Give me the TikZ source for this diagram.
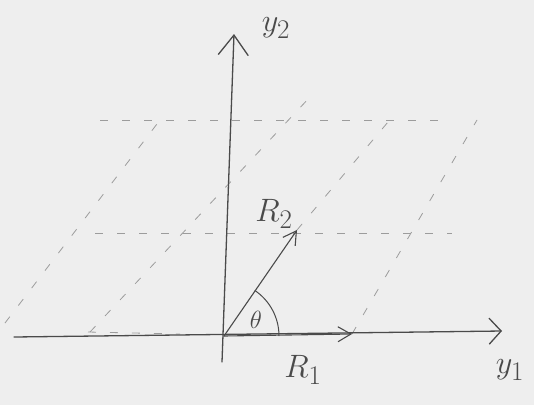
\documentclass[tikz,border=0pt]{standalone}
\usepackage{graphicx}
\usetikzlibrary{arrows.meta}
\definecolor{bg}{HTML}{EEEEEE}
\definecolor{ink}{HTML}{4A4A4A}
\definecolor{lat}{HTML}{9C9C9C}
\newcommand{\biglbl}[2][1.3]{\scalebox{#1}{\Huge$#2$}}
\begin{document}
\begin{tikzpicture}[x=1pt,y=-1pt,
  axisline/.style={draw=ink, line width=1.3pt, line cap=round},
  vec/.style={draw=ink, line width=1.1pt, line cap=round, -{Straight Barb[length=13pt,width=15pt]}},
  gridline/.style={draw=lat, line width=0.8pt, dash pattern=on 8pt off 14pt},
  lbl/.style={text=ink, inner sep=1pt}]
\fill[bg] (0,0) rectangle (534,405);
\useasboundingbox (0,0) rectangle (534,405);
% key points
\coordinate (O) at (224,336);
\coordinate (xL) at (14,337);
\coordinate (xR) at (502,331);
\coordinate (yB) at (222,362);
\coordinate (yT) at (234,34);
\coordinate (R1) at (352,334);
\coordinate (R2) at (297,230);
% lattice end points
\coordinate (h1a) at (100,120);
\coordinate (h1b) at (440,120);
\coordinate (h2a) at (95,233);
\coordinate (h2b) at (452,233);
\coordinate (h0a) at (88,332);
\coordinate (h0b) at (180,334);
\coordinate (s1a) at (5,323);
\coordinate (s1b) at (160,120);
\coordinate (s2a) at (90,332);
\coordinate (s2b) at (310,97);
\coordinate (s3b) at (388,122);
\coordinate (s4b) at (477,120);
% lattice
\draw[gridline] (h1a) -- (h1b);
\draw[gridline] (h2a) -- (h2b);
\draw[gridline] (h0a) -- (h0b);
\draw[gridline] (s1a) -- (s1b);
\draw[gridline] (s2a) -- (s2b);
\draw[gridline] (R2) -- (s3b);
\draw[gridline] (R1) -- (s4b);
% axes
\draw[axisline, -{Straight Barb[length=12pt,width=26pt]}] (xL) -- (xR);
\draw[axisline, -{Straight Barb[length=20pt,width=30pt]}] (yB) -- (yT);
% vectors
\draw[vec] (O) -- (R1);
\draw[vec] (O) -- (R2);
% angle
\draw[draw=ink, line width=1pt] (O) ++(55,0) arc[start angle=0, end angle=-56, radius=55];
% labels
\node[lbl] (ly2) at (276,28) {\biglbl{y_2}};
\node[lbl] (ly1) at (510,370) {\biglbl{y_1}};
\node[lbl] (lR2) at (274,214) {\biglbl{R_2}};
\node[lbl] (lR1) at (303,370) {\biglbl{R_1}};
\node[lbl] (lth) at (256,320) {\biglbl[1.0]{\theta}};
\end{tikzpicture}
\end{document}
